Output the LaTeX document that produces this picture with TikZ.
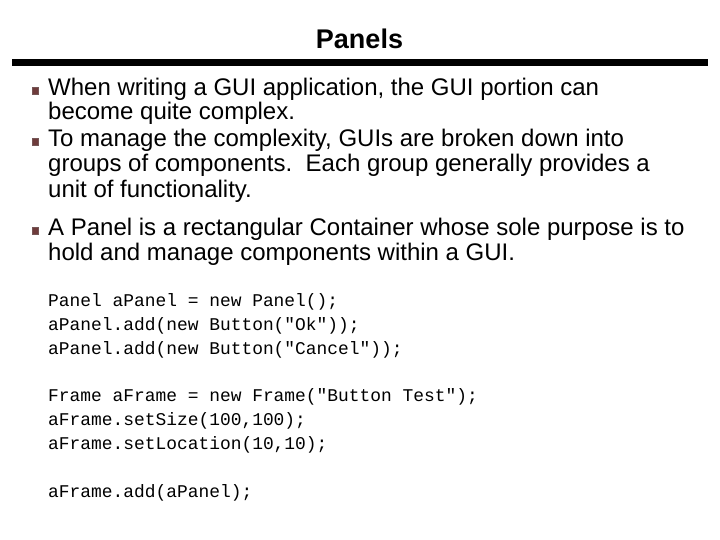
\documentclass[tikz,border=0pt]{standalone}
\usepackage{fontspec}
\setmainfont{Liberation Sans}
\newfontfamily\codefont{Liberation Mono}
\definecolor{bulletred}{HTML}{6E3B3B}
\begin{document}
\begin{tikzpicture}[x=1pt,y=-1pt,
  body/.style={anchor=base west,inner sep=0pt,font=\fontsize{24}{24}\selectfont},
  code/.style={anchor=base west,inner sep=0pt,font=\codefont\fontsize{17.9}{18}\selectfont},
  bulletsq/.style={fill=bulletred,draw=bulletred!60!gray,line width=0.4pt}]
\useasboundingbox[fill=white] (0,0) rectangle (720,540);
\node[anchor=base,inner sep=0pt,font=\bfseries\fontsize{27}{27}\selectfont] (title) at (359.5,49) {Panels};
\fill (12,59) rectangle (708,66);
% bullets
\draw[bulletsq] (32,87.5) rectangle (38.5,94);
\draw[bulletsq] (32,138.5) rectangle (38.5,145);
\draw[bulletsq] (32,227.5) rectangle (38.5,234);
\node[body] (l1) at (48,96) {When writing a GUI application, the GUI portion can};
\node[body] (l2) at (48,120) {become quite complex.};
\node[body] (l3) at (48,147) {To manage the complexity, GUIs are broken down into};
\node[body] (l4) at (48,172) {groups of components.\ \ Each group generally provides a};
\node[body] (l5) at (48,197) {unit of functionality.};
\node[body] (l6) at (48,236) {A Panel is a rectangular Container whose sole purpose is to};
\node[body] (l7) at (48,260) {hold and manage components within a GUI.};
% code
\node[code] (c1) at (48,306) {Panel aPanel = new Panel();};
\node[code] (c2) at (48,330) {aPanel.add(new Button("Ok"));};
\node[code] (c3) at (48,354) {aPanel.add(new Button("Cancel"));};
\node[code] (c4) at (48,401) {Frame aFrame = new Frame("Button Test");};
\node[code] (c5) at (48,425) {aFrame.setSize(100,100);};
\node[code] (c6) at (48,449) {aFrame.setLocation(10,10);};
\node[code] (c7) at (48,497) {aFrame.add(aPanel);};
\end{tikzpicture}
\end{document}
